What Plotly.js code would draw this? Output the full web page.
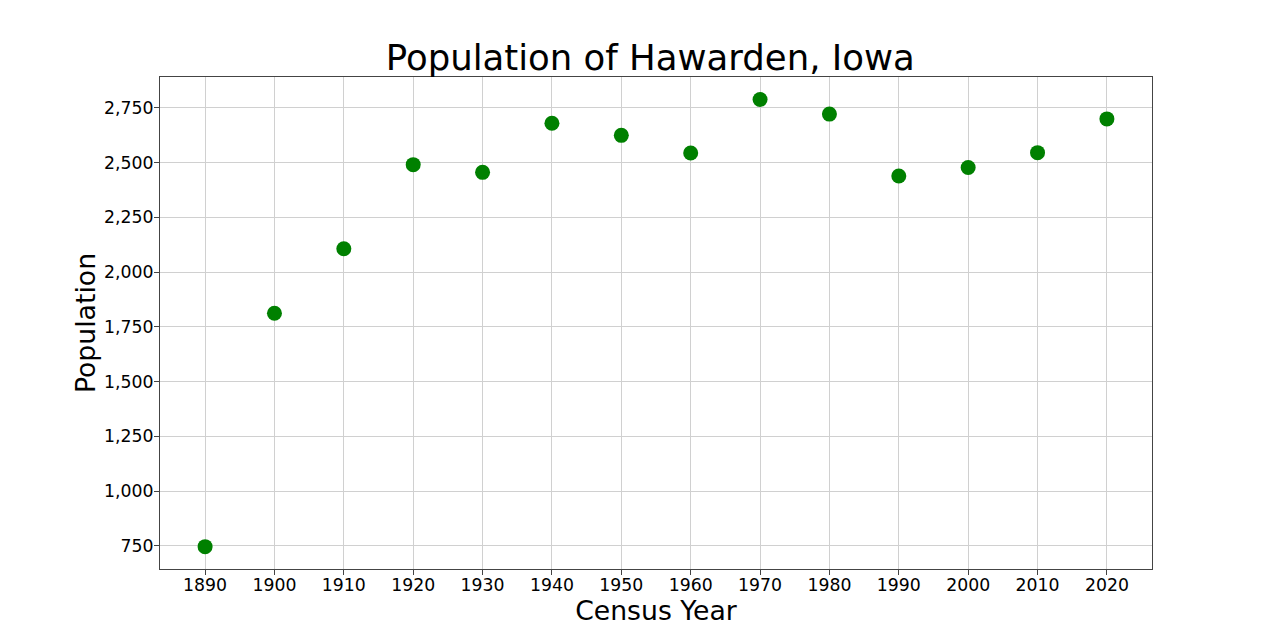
<!DOCTYPE html>
<html><head><meta charset="utf-8">
<script src="https://cdn.plot.ly/plotly-3.0.1.min.js"></script>
<style>html,body{margin:0;padding:0;background:#fff}#chart{width:1280px;height:640px}</style>
</head><body><div id="chart"></div>
<script>
const years = [1890, 1900, 1910, 1920, 1930, 1940, 1950, 1960, 1970, 1980, 1990, 2000, 2010, 2020];
const population = [746, 1812, 2107, 2491, 2456, 2680, 2625, 2544, 2789, 2722, 2439, 2478, 2546, 2700];
const yTicks = [750, 1000, 1250, 1500, 1750, 2000, 2250, 2500, 2750];

const font = "DejaVu Sans, sans-serif";
Plotly.newPlot('chart', [{
  x: years, y: population, type: 'scatter', mode: 'markers',
  marker: {color: '#008000', size: 15}
}], {
  width: 1280, height: 640,
  margin: {l: 160, r: 128, t: 77, b: 71},
  paper_bgcolor: '#fff', plot_bgcolor: '#fff',
  showlegend: false,
  title: {text: 'Population of Hawarden, Iowa', font: {family: font, size: 35.5, color: '#000'}, x: 0.508, xanchor: 'center', y: 0.91, yanchor: 'middle'},
  xaxis: {
    range: [1883.5, 2026.5], tickvals: years, ticktext: years.map(String),
    showgrid: true, gridcolor: '#d0d0d0', gridwidth: 1, zeroline: false,
    showline: true, linecolor: '#444', linewidth: 1, mirror: true,
    ticks: 'outside', ticklen: 5, tickcolor: '#444', ticklabelstandoff: -5,
    tickfont: {family: font, size: 17.3, color: '#000'},
    title: {text: 'Census Year', font: {family: font, size: 26.7, color: '#000'}, standoff: 0}
  },
  yaxis: {
    range: [644, 2891.5], tickvals: yTicks, ticktext: yTicks.map(v => v.toLocaleString('en-US')),
    showgrid: true, gridcolor: '#d0d0d0', gridwidth: 1, zeroline: false,
    showline: true, linecolor: '#444', linewidth: 1, mirror: true,
    ticks: 'outside', ticklen: 5, tickcolor: '#444', ticklabelstandoff: -3,
    tickfont: {family: font, size: 17.3, color: '#000'},
    title: {text: 'Population', font: {family: font, size: 26.7, color: '#000'}, standoff: 0}
  }
}, {displayModeBar: false, staticPlot: true});
</script></body></html>
